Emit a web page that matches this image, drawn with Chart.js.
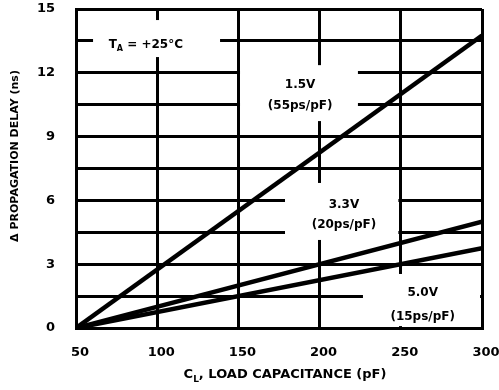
<!DOCTYPE html>
<html lang="en">
<head>
  <meta charset="UTF-8" />
  <title>Propagation Delay vs Load Capacitance</title>
  <style>
    body { margin: 0; background: #fff; }
  </style>
</head>
<body>
  <canvas id="chart" width="499" height="390"></canvas>

  <script src="https://cdn.jsdelivr.net/npm/chart.js@4.4.0/dist/chart.umd.min.js"></script>
  <script>
    // load capacitance (pF) and the added delay (ns) for each supply voltage
    const loadCap = [50, 300];
    const delay1v5 = [0, 13.75];
    const delay3v3 = [0, 5];
    const delay5v0 = [0, 3.75];
    const xTicks = [50, 100, 150, 200, 250, 300];
    const yTicks = [0, 3, 6, 9, 12, 15];

    const FONT = "'DejaVu Sans', sans-serif";

    function points(ys) {
      return loadCap.map((x, i) => ({ x: x, y: ys[i] }));
    }

    // text blocks on the plot; the grid is blanked behind each box (data units)
    const notes = [
      { box: [60.5, 138.7, 12.74, 14.48], x: 93,
        lines: [{ y: 13.3, parts: [['T'], ['A', true], [' = +25°C']] }] },
      { box: [151, 223.6, 9.73, 12.36], x: 188,
        lines: [{ y: 11.42, parts: [['1.5V']] }, { y: 10.44, parts: [['(55ps/pF)']] }] },
      { box: [178.7, 248.5, 4.14, 6.82], x: 215,
        lines: [{ y: 5.78, parts: [['3.3V']] }, { y: 4.84, parts: [['(20ps/pF)']] }] },
      { box: [226.7, 298.8, 0.09, 2.54], x: 263.5,
        lines: [{ y: 1.65, parts: [['5.0V']] }, { y: 0.52, parts: [['(15ps/pF)']] }] }
    ];

    // draws text with optional subscripts, centred on cx
    function drawRich(ctx, parts, cx, cy, size) {
      const fontFor = p => 'bold ' + (p[1] ? Math.round(size * 0.7) : size) + 'px ' + FONT;
      let w = 0;
      parts.forEach(p => { ctx.font = fontFor(p); w += ctx.measureText(p[0]).width; });
      let px = cx - w / 2;
      ctx.textAlign = 'left';
      ctx.textBaseline = 'middle';
      parts.forEach(p => {
        ctx.font = fontFor(p);
        ctx.fillText(p[0], px, p[1] ? cy + size * 0.32 : cy);
        px += ctx.measureText(p[0]).width;
      });
    }

    const notesPlugin = {
      id: 'notes',
      beforeDatasetsDraw(chart) {
        const { ctx, scales: { x, y } } = chart;
        ctx.save();
        notes.forEach(n => {
          const l = x.getPixelForValue(n.box[0]), r = x.getPixelForValue(n.box[1]);
          const b = y.getPixelForValue(n.box[2]), t = y.getPixelForValue(n.box[3]);
          ctx.fillStyle = '#fff';
          ctx.fillRect(l, t, r - l, b - t);
          ctx.fillStyle = '#000';
          n.lines.forEach(line => {
            drawRich(ctx, line.parts, x.getPixelForValue(n.x), y.getPixelForValue(line.y), 12);
          });
        });
        ctx.restore();
      },
      afterDraw(chart) {
        const { ctx, chartArea } = chart;
        ctx.save();
        ctx.fillStyle = '#000';
        // x axis title with subscript L
        drawRich(ctx, [['C'], ['L', true], [', LOAD CAPACITANCE (pF)']],
          (chartArea.left + chartArea.right) / 2 + 6, 375, 13);
        // y axis title
        ctx.translate(15, 156);
        ctx.rotate(-Math.PI / 2);
        ctx.font = 'bold 11px ' + FONT;
        ctx.textAlign = 'center';
        ctx.textBaseline = 'middle';
        ctx.fillText('Δ PROPAGATION DELAY (ns)', 0, 0);
        ctx.restore();
      }
    };

    const lineStyle = {
      borderColor: '#000',
      borderWidth: 4.5,
      pointRadius: 0,
      fill: false,
      tension: 0
    };

    // fixed axis sizes, no extra room for the end tick labels
    function fixX(s) {
      s.height = 62;
      s.paddingLeft = 0;
      s.paddingRight = 0;
    }
    function fixY(s) {
      s.width = 76;
      s.paddingTop = 0;
      s.paddingBottom = 0;
    }

    const ctx = document.getElementById('chart').getContext('2d');
    new Chart(ctx, {
      type: 'line',
      data: {
        datasets: [
          Object.assign({ label: '1.5V', data: points(delay1v5) }, lineStyle),
          Object.assign({ label: '3.3V', data: points(delay3v3) }, lineStyle),
          Object.assign({ label: '5.0V', data: points(delay5v0) }, lineStyle)
        ]
      },
      options: {
        responsive: false,
        animation: false,
        events: [],
        layout: { padding: { top: 9, right: 17, left: 0, bottom: 0 } },
        plugins: {
          legend: { display: false },
          tooltip: { enabled: false }
        },
        scales: {
          x: {
            type: 'linear',
            min: 50,
            max: 300,
            afterFit: fixX,
            grid: { color: '#000', lineWidth: 3, drawTicks: false },
            border: { color: '#000', width: 3 },
            ticks: {
              stepSize: 50,
              color: '#000',
              padding: 17,
              labelOffset: 4,
              maxRotation: 0,
              font: { family: FONT, size: 13, weight: 'bold' },
              callback: v => xTicks.includes(v) ? v : ''
            }
          },
          y: {
            type: 'linear',
            min: 0,
            max: 15,
            afterFit: fixY,
            grid: { color: '#000', lineWidth: 3, drawTicks: false },
            border: { color: '#000', width: 3 },
            ticks: {
              stepSize: 1.5,
              color: '#000',
              padding: 21,
              font: { family: FONT, size: 13, weight: 'bold' },
              callback: v => yTicks.includes(v) ? v : ''
            }
          }
        }
      },
      plugins: [notesPlugin]
    });
  </script>
</body>
</html>
